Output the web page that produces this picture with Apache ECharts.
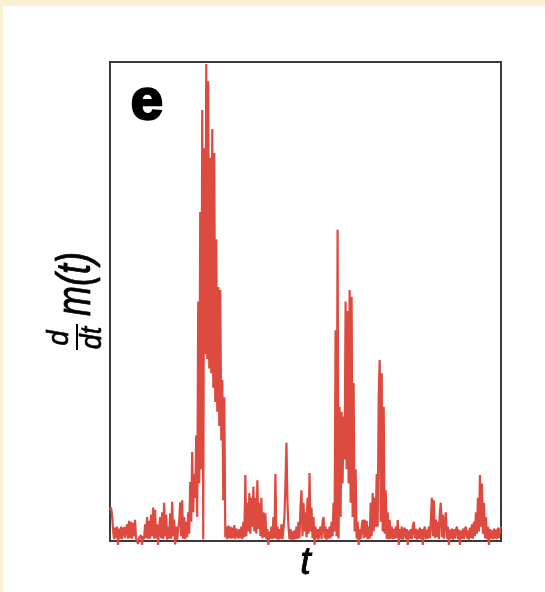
<!DOCTYPE html>
<html>
<head>
<meta charset="utf-8">
<script src="https://cdn.jsdelivr.net/npm/echarts@6/dist/echarts.min.js"></script>
<style>
html,body{margin:0;padding:0;background:#fff;}
#chart{width:545px;height:592px;}
</style>
</head>
<body>
<div id="chart"></div>
<script>
// Time axis: sample index (one per horizontal step), t from 0 to 390
var tMin = 0, tMax = 390;
// d/dt m(t) values, in % of the panel height
var derivValues = [
  6.5, 7, 5.5, 2.5, 0.4, 2.8, 0.6, 3, -0.8, 2.6,
  0.5, 3, 0.4, 2.4, 2.9, 0.6, 2.5, 3.5, 0.5, 4.2,
  0.6, 4, 0.5, 3.8, 1, 4.4, 0.5, 0.8, -0.6, 0.7,
  0.3, 1.2, -0.8, 1, 0.4, 3.5, 0.6, 5, 0.5, 4.2,
  0.5, 5.5, 1, 7, 0.5, 6.5, 0.6, 3.5, -0.8, 2.5,
  5, 0.6, 6, 0.4, 8, 1, 5.5, 0.3, 3, 0.5,
  5.8, 0.5, 8.2, 1, 4.5, -0.7, 3, 0.3, 2.5, 4,
  8.1, 1, 8.5, 0.5, 5, 0.4, 4, 0.8, 6, 1.5,
  12.3, 4, 18.6, 6, 14, 9, 22, 5, 50, 12,
  68.7, 15, 90, 0.3, 82, 39, 99.6, 38, 96, 36,
  80, 35, 86, 32, 81, 29, 63, 27, 53, 24,
  52.4, 21, 33.6, 8.5, 30, 0.8, 3, 0.4, 3.2, 0.6,
  3, 0.5, 2.8, 0.6, 3.3, 0.4, 2.6, 3, 0.5, 2.5,
  0.6, 3, 0.4, 4, 0.8, 13.8, 1, 8, 2, 10,
  1.5, 9, 3, 11.3, 2, 9, 1.5, 12.7, 2.5, 8,
  1, 9, 0.6, 6, 0.8, 5.8, 0.4, 2.5, -0.8, 2,
  0.5, 3, 0.4, 5, 0.6, 14, 0.4, 3, 0.3, 2.5,
  0.5, 3.5, 0.4, 2.5, 5, 12, 20.5, 8, 3, 0.4,
  2.5, 0.3, 2, 0.3, 2.2, 0.4, 3, 0.5, 4, 0.6,
  7, 10.6, 1, 8, 2, 6, 0.8, 9, 1.5, 14.2,
  2, 7, 0.6, 5, -0.8, 3, 0.5, 2.5, 0.3, 2.2,
  3, 0.4, 4, 5, 0.6, 3, 0.3, 2.5, 0.5, 3,
  0.6, 4, 1, 8, 2, 44, 1, 65, 0.5, 28,
  5, 27, 12, 26, 17, 50, 15, 48, 12, 52.4,
  8, 51, 5, 33, 2, 15, 0.5, 4, -0.8, 2.5,
  0.4, 3, 4.4, 0.6, 4.5, 0.8, 4.2, 0.4, 3, 0.5,
  8, 1, 10, 2, 9, 3, 14, 3, 30, 37.8,
  4, 35, 2, 28, 1.5, 10.6, 0.5, 6, 0.4, 4.4,
  0.5, 3, 0.4, 2.5, 0.5, 3, 0.6, 4.4, -0.8, 2.5,
  0.4, 3, 0.3, 2.2, 2.8, 0.4, 2.5, -0.8, 2.2, 0.5,
  2.5, 0.4, 3, 4, 0.6, 2.6, 0.3, 2.4, 0.5, 2.8,
  0.4, 2.5, -0.8, 2.2, 3, 0.4, 2.4, 0.5, 3, 0.6,
  4, 9, 1, 8.5, 0.6, 4.5, 0.8, 4, 0.4, 6,
  8, 0.8, 5.5, 0.5, 4, 6, 0.5, 3, -0.8, 2.4,
  0.5, 2.6, 0.3, 2.5, 0.5, 2.2, 3, 0.4, 2.4, -0.8,
  2.2, 0.5, 2.6, 0.4, 2.5, 3, 0.5, 2.2, 0.3, 2.8,
  0.6, 3.5, 0.5, 4, 1, 6, 1.5, 9, 2, 13.8,
  3, 12, 1.5, 8, 0.6, 5, 0.4, 3, -0.8, 2.5,
  0.5, 2.2, 0.4, 2.6, 0.5, 2.4, 0.4, 2.8, 0.6, 2.2,
  3
];
var xAxisName = 't';
var panelLabel = 'e';
var yNumerator = 'd';
var yDenominator = 'dt';
var yRest = 'm(t)';

var seriesData = derivValues.map(function (v, i) { return [i, v]; });
var cream = '#faf1d4';
var labelFont = '"Liberation Sans", Arial, sans-serif';

var chart = echarts.init(document.getElementById('chart'), null, {renderer: 'canvas'});
chart.setOption({
  backgroundColor: '#ffffff',
  animation: false,
  grid: {
    left: 110, top: 62, width: 391, height: 479,
    show: true, borderColor: '#3a3a3a', borderWidth: 2, backgroundColor: 'transparent'
  },
  xAxis: {
    type: 'value', min: tMin, max: tMax,
    name: xAxisName, nameLocation: 'middle', nameGap: 3,
    nameTextStyle: {fontStyle: 'italic', fontSize: 38, fontFamily: labelFont, color: '#000', verticalAlign: 'top',
      textBorderColor: '#000', textBorderWidth: 0.8},
    axisLine: {show: false}, axisTick: {show: false}, axisLabel: {show: false}, splitLine: {show: false}
  },
  yAxis: {
    type: 'value', min: 0, max: 100,
    axisLine: {show: false}, axisTick: {show: false}, axisLabel: {show: false}, splitLine: {show: false}
  },
  series: [{
    type: 'line', data: seriesData, showSymbol: false, symbol: 'none', clip: false,
    lineStyle: {color: '#dc4a40', width: 2.2},
    emphasis: {disabled: true}
  }],
  graphic: [
    {type: 'rect', shape: {x: 0, y: 0, width: 545, height: 6}, style: {fill: cream}, silent: true},
    {type: 'rect', shape: {x: 0, y: 0, width: 3, height: 592}, style: {fill: cream}, silent: true},
    {type: 'text', x: 147, y: 103, style: {text: panelLabel, font: 'bold 58px ' + labelFont, fill: '#000', stroke: '#000', lineWidth: 2.5, align: 'center', verticalAlign: 'middle', textAlign: 'center', textVerticalAlign: 'middle'}},
    {type: 'group', x: 77, y: 352, rotation: Math.PI / 2, children: [
      {type: 'text', x: 14, y: -2, scaleY: 1.1, style: {text: yNumerator, font: 'italic 27px ' + labelFont, fill: '#000', stroke: '#000', lineWidth: 0.6, align: 'center', verticalAlign: 'bottom', textAlign: 'center', textVerticalAlign: 'bottom'}},
      {type: 'line', shape: {x1: 2, y1: 0, x2: 28, y2: 0}, style: {stroke: '#000', lineWidth: 2}},
      {type: 'text', x: 14, y: 1, scaleY: 1.1, style: {text: yDenominator, font: 'italic 27px ' + labelFont, fill: '#000', stroke: '#000', lineWidth: 0.6, align: 'center', verticalAlign: 'top', textAlign: 'center', textVerticalAlign: 'top'}},
      {type: 'text', x: 36, y: 0, scaleY: 1.32, style: {text: yRest, font: 'italic 36px ' + labelFont, fill: '#000', stroke: '#000', lineWidth: 0.6, align: 'left', verticalAlign: 'middle', textAlign: 'left', textVerticalAlign: 'middle'}}
    ]}
  ]
});
</script>
</body>
</html>
